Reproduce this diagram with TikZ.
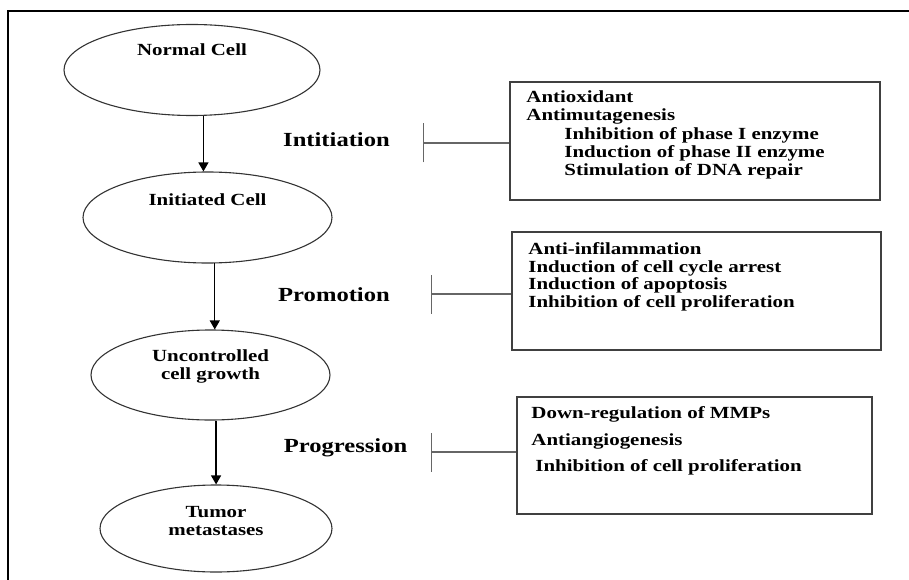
\documentclass[tikz,border=0pt]{standalone}
\usepackage{fontspec}
\setmainfont{Liberation Serif}[FakeStretch=1.23]
\usetikzlibrary{arrows.meta}
\usetikzlibrary{calc}
\usetikzlibrary{shapes.geometric}

\tikzset{
  cell/.style={ellipse, draw=black!80, line width=1.1pt, inner sep=0pt},
  celltext/.style={font=\fontsize{17}{18}\selectfont\bfseries, align=center, inner sep=0pt},
  stage/.style={font=\fontsize{20}{24}\selectfont\bfseries, inner sep=0pt},
  effect/.style={rectangle, draw=black!75, line width=1.5pt, inner sep=0pt},
  effecttext/.style={font=\fontsize{17}{#1}\selectfont\bfseries, align=left, anchor=north west, inner sep=0pt},
  flow/.style={-{Triangle[width=10pt, length=9pt]}, line width=1.2pt},
  block/.style={{Bar[width=39pt]}-, draw=black!60, line width=1.4pt}
}

\begin{document}
\begin{tikzpicture}[x=1pt, y=-1pt]
      \useasboundingbox (0,0) rectangle (909,580);
      \draw[line width=2.7pt] (8,580) -- (8,11) -- (909,11);

      \node[cell, minimum width=256pt, minimum height=91pt, label={[celltext, yshift=20pt]center:Normal Cell}] (normal) at (192, 70) {};
      \node[cell, minimum width=249pt, minimum height=91pt, label={[celltext, yshift=17.5pt]center:Initiated Cell}] (initiated) at (207.5, 217.5) {};
      \node[cell, minimum width=239pt, minimum height=90pt, label={[celltext, yshift=9pt]center:Uncontrolled\\cell growth}] (growth) at (210.5, 375) {};
      \node[cell, minimum width=232pt, minimum height=87pt, label={[celltext, yshift=7.5pt]center:Tumor\\metastases}] (tumor) at (216, 528.5) {};

      \draw[flow] (normal.-76) -- (normal.-76 |- initiated.north);
      \draw[flow] (initiated.-81) -- (initiated.-81 |- growth.north);
      \draw[flow] (growth.-83) -- (growth.-83 |- tumor.north);

      \node[stage] (initiation) at (336.5, 140) {Intitiation};
      \node[stage] (promotion) at (334, 295) {Promotion};
      \node[stage] (progression) at (345.5, 448) {Progression};

      \node[effect, minimum width=370pt, minimum height=118pt, label={[effecttext=18.25pt, xshift=17pt, yshift=-9.5pt]north west:{Antioxidant\\Antimutagenesis\\\hspace*{38pt}Inhibition of phase I enzyme\\\hspace*{38pt}Induction of phase II enzyme\\\hspace*{38pt}Stimulation of DNA repair}}] (initbox) at (695, 141) {};
      \node[effect, minimum width=369pt, minimum height=118pt, label={[effecttext=17.7pt, xshift=17pt, yshift=-11pt]north west:{Anti-infilammation\\Induction of cell cycle arrest\\Induction of apoptosis\\Inhibition of cell proliferation}}] (promobox) at (696.5, 291) {};
      \node[effect, minimum width=355pt, minimum height=117pt, label={[effecttext=26.5pt, xshift=15pt, yshift=-10.5pt]north west:{Down-regulation of MMPs\\Antiangiogenesis\\\hspace*{4pt}Inhibition of cell proliferation}}] (progbox) at (694.5, 455.5) {};

      \coordinate (initbar) at (423, 143);
      \coordinate (promobar) at (431, 294);
      \coordinate (progbar) at (431, 452);
      \draw[block] (initbar) -- (initbar -| initbox.west);
      \draw[block] (promobar) -- (promobar -| promobox.west);
      \draw[block] (progbar) -- (progbar -| progbox.west);
    \end{tikzpicture}
\end{document}
